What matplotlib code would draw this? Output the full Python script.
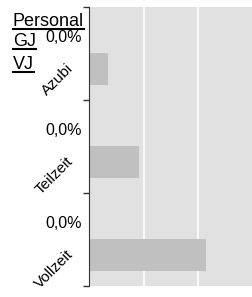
import matplotlib
matplotlib.use("Agg")
import matplotlib.pyplot as plt
from matplotlib.lines import Line2D

plt.rcParams['font.family'] = ['Liberation Sans', 'DejaVu Sans']

categories = ['Azubi', 'Teilzeit', 'Vollzeit']
values = [0.34, 0.91, 2.14]
labels_gj = ['0,0%', '0,0%', '0,0%']
header = ['Personal', 'GJ', 'VJ']

fig = plt.figure(figsize=(2.53, 2.97), dpi=100)
ax = fig.add_axes([0.352, 0.037, 0.648, 0.939])
ax.set_facecolor('#e1e1e1')

pos = [i + 0.67 for i in range(len(categories))]
ax.barh(pos, values, height=0.345, color='#c0c0c0', zorder=2)

ax.set_xlim(0, 3)
ax.set_ylim(3, 0)
ax.set_xticks([1, 2])
ax.xaxis.grid(True, color='white', linewidth=1.2, zorder=1)
ax.tick_params(axis='x', length=0, labelbottom=False)
ax.set_yticks([0, 1, 2, 3])
ax.set_yticklabels([])
ax.tick_params(axis='y', length=4, width=1, color='#333333')
for s in ['top', 'right', 'bottom']:
    ax.spines[s].set_visible(False)
ax.spines['left'].set_color('#333333')

for i, (c, g) in enumerate(zip(categories, labels_gj)):
    ax.annotate(g, xy=(0, i + 0.33), xytext=(-5, 0), textcoords='offset points',
                ha='right', va='center', fontsize=11.5)
    ax.annotate(c, xy=(0, i + 0.67), xytext=(-13, 2), textcoords='offset points',
                ha='right', va='center', fontsize=11, rotation=45,
                rotation_mode='anchor')

ys = [1 - 26 / 297, 1 - 46 / 297, 1 - 69 / 297]
texts = []
for h, y in zip(header, ys):
    texts.append(fig.text(13 / 253, y, h, ha='left', va='baseline', fontsize=13))

fig.canvas.draw()
r = fig.canvas.get_renderer()
for t, y in zip(texts, ys):
    bb = t.get_window_extent(r).transformed(fig.transFigure.inverted())
    uy = y - 2.5 / 297
    fig.add_artist(Line2D([bb.x0, bb.x1], [uy, uy],
                          transform=fig.transFigure, color='black', linewidth=1.5))

fig.savefig('out.png', dpi=100)
